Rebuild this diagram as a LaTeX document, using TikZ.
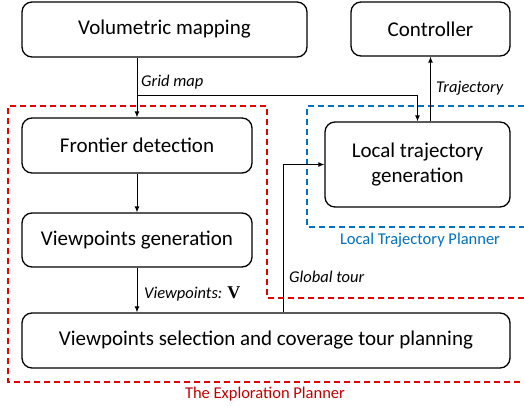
\documentclass[tikz,border=0pt]{standalone}
\usepackage{fontspec}
\setmainfont{Carlito}
\newfontfamily\serifV{Liberation Serif}
\usetikzlibrary{arrows.meta}
\definecolor{rline}{RGB}{230,0,0}
\definecolor{rtext}{RGB}{192,0,0}
\definecolor{bline}{RGB}{0,112,192}
\tikzset{
  box/.style={draw=black, line width=1.3pt, rounded corners=10pt, align=center, font=\fontsize{21}{25}\selectfont, inner sep=0pt},
  lbl/.style={font=\fontsize{16.5}{19}\selectfont\itshape, inner sep=0pt},
  conn/.style={line width=0.9pt, -{Latex[length=6pt,width=5pt]}},
  frame/.style={line width=1.3pt, dash pattern=on 6pt off 4pt},
}
\begin{document}
\begin{tikzpicture}[x=1pt,y=-1pt]
\useasboundingbox (0,0) rectangle (524,406);
\node[box, minimum width=285pt, minimum height=55pt] (vol) at (164.5,29.5) {Volumetric mapping};
\node[box, minimum width=159pt, minimum height=54pt] (ctrl) at (430.5,29) {Controller};
\node[box, minimum width=230pt, minimum height=55pt] (front) at (137,145.5) {Frontier detection};
\node[box, minimum width=230pt, minimum height=54pt] (vg) at (137,240) {Viewpoints generation};
\node[box, minimum width=185pt, minimum height=85pt] (local) at (417.5,164.5) {Local trajectory\\generation};
\node[box, minimum width=488pt, minimum height=55pt] (sel) at (266,340.5) {Viewpoints selection and coverage tour planning};
% frames
\draw[frame, rline] (524,298) -- (267,298) -- (267,106) -- (8,106) -- (8,382) -- (524,382);
\draw[frame, bline] (524,106) -- (307,106) -- (307,227) -- (524,227);
\node[font=\fontsize{16.5}{19}\selectfont, text=rtext, inner sep=0pt] (eplbl) at (265,394) {The Exploration Planner};
\node[font=\fontsize{16.5}{19}\selectfont, text=bline, inner sep=0pt] (ltlbl) at (420,240) {Local Trajectory Planner};
% connectors
\coordinate (gm) at (137,95);
\draw[conn] (front.north |- vol.south) -- (front.north);
\draw[conn] (gm) -| (local.north);
\draw[conn] (ctrl.south |- local.north) -- (ctrl.south);
\draw[conn] (front.south) -- (vg.north);
\draw[conn] (vg.south) -- (sel.north -| vg.south);
\coordinate (gt) at (283,0);
\draw[conn] (sel.north -| gt) |- (local.west);
% labels
\node[lbl, anchor=west] (gmlbl) at (141,82) {Grid map};
\node[lbl, anchor=west] (trlbl) at (436,88) {Trajectory};
\node[lbl, anchor=west] (gtlbl) at (289,277) {Global tour};
\node[lbl, anchor=west] (vplbl) at (144,294) {Viewpoints: {\upshape\serifV\bfseries\fontsize{18}{20}\selectfont V}};
\end{tikzpicture}
\end{document}
